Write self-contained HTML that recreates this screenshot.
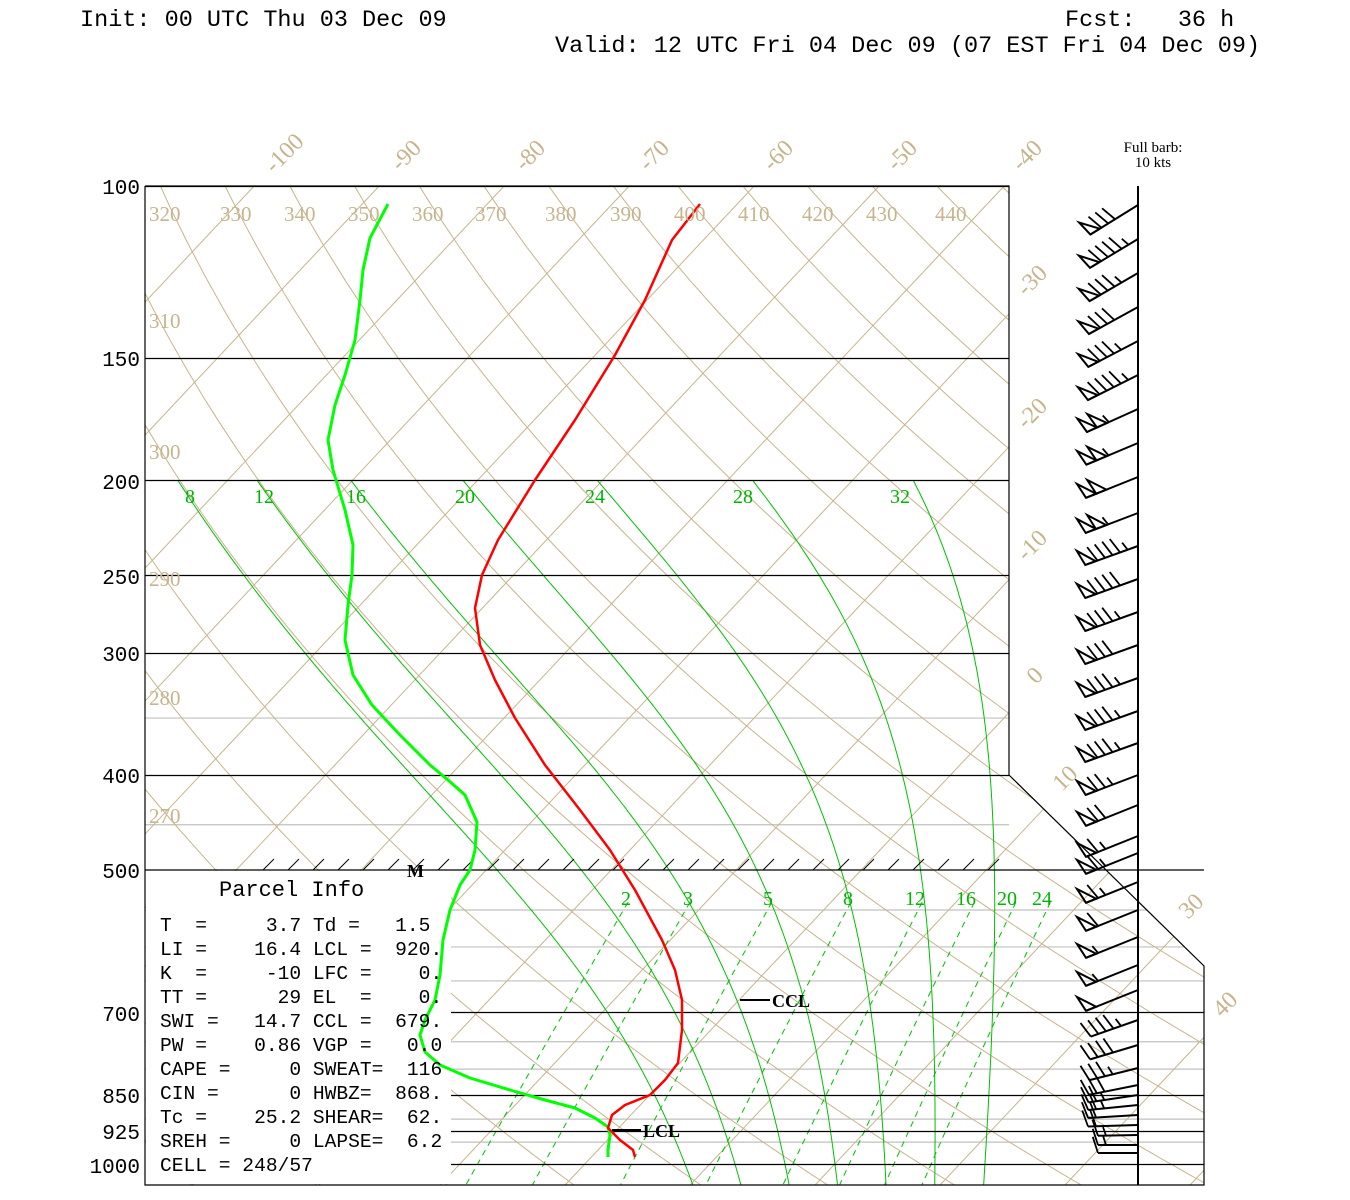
<!DOCTYPE html>
<html><head><meta charset="utf-8"><style>
html,body{margin:0;padding:0;background:#fff;}
svg{display:block;}
.hd{font-family:"Liberation Mono",monospace;font-size:23.5px;fill:#000;}
.pl{font-family:"Liberation Mono",monospace;font-size:21px;fill:#000;}
.it{font-family:"Liberation Serif",serif;font-size:24px;fill:#c8b48c;}
.th{font-family:"Liberation Serif",serif;font-size:21px;fill:#c8b48c;}
.mg{font-family:"Liberation Serif",serif;font-size:20px;fill:#00b400;}
.pi{font-family:"Liberation Mono",monospace;font-size:19.6px;fill:#000;white-space:pre;}
</style></head><body>
<svg id="s" width="1350" height="1200" viewBox="0 0 1350 1200" xmlns="http://www.w3.org/2000/svg">
<defs><clipPath id="cp"><polygon points="145,186 1009,186 1009,775 1204,966 1204,1185 145,1185"/></clipPath></defs>
<rect width="1350" height="1200" fill="#fff"/>
<g id="bg" clip-path="url(#cp)"></g>
<rect x="146" y="871" width="305" height="313" fill="#fff"/>
<polyline points="145,186 1009,186 1009,775 1204,966 1204,1185 145,1185 145,186" fill="none" stroke="#000" stroke-width="1.2"/>
<g id="fg"></g>
<text class="hd" x="80" y="26" xml:space="preserve">Init: 00 UTC Thu 03 Dec 09</text>
<text class="hd" x="1065" y="26" xml:space="preserve">Fcst:   36 h</text>
<text class="hd" x="555" y="52" xml:space="preserve">Valid: 12 UTC Fri 04 Dec 09 (07 EST Fri 04 Dec 09)</text>
<g class="pl" text-anchor="end">
<text x="140" y="194">100</text><text x="140" y="366">150</text><text x="140" y="489">200</text>
<text x="140" y="584">250</text><text x="140" y="661">300</text><text x="140" y="783">400</text>
<text x="140" y="878">500</text><text x="140" y="1021">700</text><text x="140" y="1103">850</text>
<text x="140" y="1139">925</text><text x="140" y="1173">1000</text>
</g>
<g class="it">
<text transform="translate(274,174) rotate(-45)">-100</text>
<text transform="translate(400,172) rotate(-45)">-90</text>
<text transform="translate(524,172) rotate(-45)">-80</text>
<text transform="translate(648,172) rotate(-45)">-70</text>
<text transform="translate(772,172) rotate(-45)">-60</text>
<text transform="translate(896,172) rotate(-45)">-50</text>
<text transform="translate(1021,172) rotate(-45)">-40</text>
<text transform="translate(1026,297) rotate(-45)">-30</text>
<text transform="translate(1026,430) rotate(-45)">-20</text>
<text transform="translate(1026,562) rotate(-45)">-10</text>
<text transform="translate(1036,685) rotate(-45)">0</text>
<text transform="translate(1062,792) rotate(-45)">10</text>
<text transform="translate(1188,920) rotate(-45)">30</text>
<text transform="translate(1222,1018) rotate(-45)">40</text>
</g>
<g class="th">
<text x="149" y="221">320</text><text x="220" y="221">330</text><text x="284" y="221">340</text>
<text x="348" y="221">350</text><text x="412" y="221">360</text><text x="475" y="221">370</text>
<text x="545" y="221">380</text><text x="610" y="221">390</text><text x="674" y="221">400</text>
<text x="738" y="221">410</text><text x="802" y="221">420</text><text x="866" y="221">430</text>
<text x="935" y="221">440</text>
<text x="149" y="328">310</text><text x="149" y="459">300</text><text x="149" y="586">290</text>
<text x="149" y="705">280</text><text x="149" y="823">270</text>
</g>
<g class="mg" text-anchor="middle">
<text x="190" y="503">8</text><text x="264" y="503">12</text><text x="356" y="503">16</text>
<text x="465" y="503">20</text><text x="595" y="503">24</text><text x="743" y="503">28</text><text x="900" y="503">32</text>
<text x="626" y="905">2</text><text x="688" y="905">3</text><text x="768" y="905">5</text><text x="848" y="905">8</text>
<text x="915" y="905">12</text><text x="966" y="905">16</text><text x="1007" y="905">20</text><text x="1042" y="905">24</text>
</g>
<text x="219" y="896" font-family="Liberation Mono,monospace" font-size="22" fill="#000" xml:space="preserve">Parcel Info</text>
<g class="pi">
<text x="160" y="931" xml:space="preserve">T  =     3.7 Td =   1.5</text>
<text x="160" y="955" xml:space="preserve">LI =    16.4 LCL =  920.</text>
<text x="160" y="979" xml:space="preserve">K  =     -10 LFC =    0.</text>
<text x="160" y="1003" xml:space="preserve">TT =      29 EL  =    0.</text>
<text x="160" y="1027" xml:space="preserve">SWI =   14.7 CCL =  679.</text>
<text x="160" y="1051" xml:space="preserve">PW =    0.86 VGP =   0.0</text>
<text x="160" y="1075" xml:space="preserve">CAPE =     0 SWEAT=  116</text>
<text x="160" y="1099" xml:space="preserve">CIN =      0 HWBZ=  868.</text>
<text x="160" y="1123" xml:space="preserve">Tc =    25.2 SHEAR=  62.</text>
<text x="160" y="1147" xml:space="preserve">SREH =     0 LAPSE=  6.2</text>
<text x="160" y="1171" xml:space="preserve">CELL = 248/57</text>
</g>
<text x="407" y="877" font-family="Liberation Serif,serif" font-weight="bold" font-size="18">M</text>
<line x1="740" y1="1000" x2="770" y2="1000" stroke="#000" stroke-width="2"/>
<text x="772" y="1007" font-family="Liberation Serif,serif" font-weight="bold" font-size="18">CCL</text>
<line x1="612" y1="1130" x2="641" y2="1130" stroke="#000" stroke-width="2"/>
<text x="643" y="1137" font-family="Liberation Serif,serif" font-weight="bold" font-size="18">LCL</text>
<text x="1153" y="152" text-anchor="middle" font-family="Liberation Serif,serif" font-size="15">Full barb:</text>
<text x="1153" y="167" text-anchor="middle" font-family="Liberation Serif,serif" font-size="15">10 kts</text>
<script>
(function(){
var NS="http://www.w3.org/2000/svg";
function el(p,t,a){var e=document.createElementNS(NS,t);for(var k in a)e.setAttribute(k,a[k]);p.appendChild(e);return e;}
function Y(p){return 186+424.7*Math.log(p/100);}
function X(T,y){return 1679+12.5*T-0.94*y;}
var bg=document.getElementById('bg'),fg=document.getElementById('fg');
var tan="#c8b48c";
[350,450].forEach(function(p){var y=Y(p);el(bg,'line',{x1:145,x2:1009,y1:y,y2:y,stroke:"#c0c0c0","stroke-width":1.2});});
[550,600,650,750,800,900,950].forEach(function(p){var y=Y(p);el(bg,'line',{x1:145,x2:1204,y1:y,y2:y,stroke:"#c0c0c0","stroke-width":1.2});});
for(var T=-160;T<=50;T+=10){el(bg,'line',{x1:X(T,186),y1:186,x2:X(T,1185),y2:1185,stroke:tan,"stroke-width":1});}
for(var th=240;th<=460;th+=10){var pts=[];for(var p=95;p<=1060;p+=10){var y=Y(p);var t=th*Math.pow(p/1000,0.286)-273.15;pts.push(X(t,y).toFixed(1)+","+y.toFixed(1));}
el(bg,'polyline',{points:pts.join(" "),fill:"none",stroke:tan,"stroke-width":1});}
function es(t){return 6.112*Math.exp(17.67*t/(t+243.5));}
function grad(p,t){var TK=t+273.15;var e=es(t);var rs=0.622*e/(p-e);return (287*TK+2.5e6*rs)/(p*(1004+2.5e6*2.5e6*rs*0.622/(287*TK*TK)));}
[8,12,16,20,24,28,32].forEach(function(tw){var t=tw,p=1000,pts=[];var arr=[[p,t]];
while(p>200){t+=grad(p,t)*-2;p-=2;arr.push([p,t]);}
var t2=tw,p2=1000;var low=[];while(p2<1060){t2+=grad(p2,t2)*2;p2+=2;low.push([p2,t2]);}
arr=low.reverse().concat(arr);
arr.forEach(function(a){var y=Y(a[0]);pts.push(X(a[1],y).toFixed(1)+","+y.toFixed(1));});
el(bg,'polyline',{points:pts.join(" "),fill:"none",stroke:"#00c000","stroke-width":1});});
[2,3,5,8,12,16,20,24].forEach(function(w){var pts=[];for(var p=540;p<=1060;p+=10){var e=w*p/(622+w);var l=Math.log(e/6.112);var td=243.5*l/(17.67-l);var y=Y(p);pts.push(X(td,y).toFixed(1)+","+y.toFixed(1));}
el(bg,'polyline',{points:pts.join(" "),fill:"none",stroke:"#00c000","stroke-width":1,"stroke-dasharray":"6,5"});});
[100,150,200,250,300,400].forEach(function(p){var y=Math.round(Y(p))+0.5;el(fg,'line',{x1:145,x2:1009,y1:y,y2:y,stroke:"#000","stroke-width":1.2});});
el(fg,'line',{x1:145,x2:1204,y1:870,y2:870,stroke:"#000","stroke-width":1.2});
[700,850,925,1000].forEach(function(p){var y=Math.round(Y(p))+0.5;el(fg,'line',{x1:451,x2:1204,y1:y,y2:y,stroke:"#000","stroke-width":1.2});});
for(var x=263;x<1005;x+=25){el(fg,'line',{x1:x,y1:870,x2:x+11,y2:859,stroke:"#000","stroke-width":1});}
el(fg,'line',{x1:1138,y1:186,x2:1138,y2:1185,stroke:"#000","stroke-width":2});
var red=[[700,204],[672,240],[645,300],[615,355],[575,420],[535,480],[498,540],[482,575],[475,608],[480,645],[495,680],[515,718],[545,765],[580,810],[610,850],[635,890],[662,940],[675,970],[682,1000],[682,1030],[678,1063],[665,1080],[650,1095],[625,1105],[612,1115],[608,1128],[620,1140],[633,1150],[635,1157]];
var grn=[[388,204],[370,238],[363,270],[360,300],[355,340],[345,375],[335,405],[328,440],[333,470],[345,510],[353,545],[352,575],[348,605],[345,640],[353,675],[372,705],[400,735],[430,765],[448,780],[465,795],[477,822],[475,850],[470,870],[460,885],[450,910],[443,940],[440,975],[435,1000],[425,1020],[420,1035],[425,1052],[440,1065],[470,1078],[510,1090],[545,1100],[575,1108],[595,1118],[608,1127],[610,1135],[608,1150],[608,1157]];
el(fg,'polyline',{points:grn.join(" "),fill:"none",stroke:"#00ff00","stroke-width":3,"stroke-linejoin":"round"});
el(fg,'polyline',{points:red.join(" "),fill:"none",stroke:"#ff0000","stroke-width":2.5,"stroke-linejoin":"round"});
var barbs=[[205,80,0.62],[239,95,0.6],[273,85,0.58],[307,80,0.55],[341,85,0.52],[375,95,0.5],[409,105,0.45],[443,105,0.42],[477,100,0.4],[513,105,0.38],[546,95,0.36],[579,90,0.36],[612,85,0.36],[645,80,0.36],[678,85,0.36],[711,85,0.36],[743,85,0.36],[775,75,0.38],[805,70,0.4],[836,65,0.4],[853,65,0.4],[882,65,0.4],[910,60,0.4],[937,55,0.4],[965,55,0.4],[990,50,0.4],[1020,45,0.35],[1045,40,0.3],[1068,35,0.25],[1085,30,0.2],[1095,25,0.15],[1105,25,0.1],[1115,20,0.06],[1125,20,0.03],[1135,15,0.02],[1145,15,0],[1153,10,0]];
barbs.forEach(function(b){var y0=b[0],sp=b[1],sl=b[2];var L=Math.hypot(1,sl);var dx=-1/L,dy=sl/L;var len=sp>=50?56:(sp>=20?50:40);
var ex=1138+dx*len,ey=y0+dy*len;el(fg,'line',{x1:1138,y1:y0,x2:ex,y2:ey,stroke:"#000","stroke-width":2});
var a=Math.atan2(dy,dx)+72*Math.PI/180;var tx=Math.cos(a),ty=Math.sin(a);var pos=0;var s=sp;
while(s>=50){var bx=ex-dx*pos,by=ey-dy*pos;var cx=ex-dx*(pos+11),cy=ey-dy*(pos+11);var ax=ex-dx*(pos+2)+tx*17,ay=ey-dy*(pos+2)+ty*17;
el(fg,'polygon',{points:bx+","+by+" "+ax+","+ay+" "+cx+","+cy,fill:"none",stroke:"#000","stroke-width":2,"stroke-linejoin":"miter"});pos+=11;s-=50;}
if(pos>0)pos+=2;
while(s>=10){var bx=ex-dx*pos,by=ey-dy*pos;el(fg,'line',{x1:bx,y1:by,x2:bx+tx*17,y2:by+ty*17,stroke:"#000","stroke-width":1.8});pos+=8;s-=10;}
if(s>=5){var bx=ex-dx*pos,by=ey-dy*pos;el(fg,'line',{x1:bx,y1:by,x2:bx+tx*9,y2:by+ty*9,stroke:"#000","stroke-width":1.8});}
});
})();
</script>
</svg>
</body></html>
